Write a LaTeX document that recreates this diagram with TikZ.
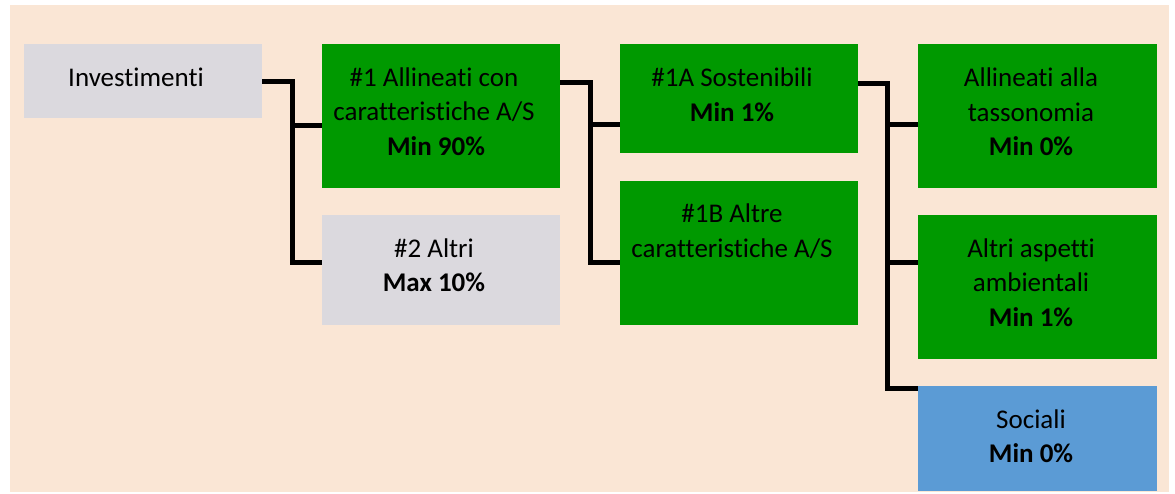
\documentclass[tikz,border=0pt]{standalone}
\usepackage{fontspec}
\setmainfont[Ligatures={NoCommon}]{Carlito}
\definecolor{bgc}{HTML}{FAE6D5}
\definecolor{boxgreen}{HTML}{009900}
\definecolor{boxgrey}{HTML}{DBD9DE}
\definecolor{boxblue}{HTML}{5B9BD5}
\tikzset{
  box/.style={rectangle, draw=none, inner sep=0pt, outer sep=0pt, anchor=north west},
  txt/.style={anchor=base, inner sep=0pt, outer sep=0pt, font=\fontsize{27}{34.5}\selectfont},
  conn/.style={line width=5pt, black, line join=miter}
}
\begin{document}
\begin{tikzpicture}[x=1pt,y=-1pt]
\useasboundingbox (0,0) rectangle (1175,493);
\fill[bgc] (10,5) rectangle (1169,492);
% boxes
\node[box, fill=boxgrey,  minimum width=238pt, minimum height=74pt]  (inv) at (24,44) {};
\node[box, fill=boxgreen, minimum width=238pt, minimum height=144pt] (n1)  at (322,44) {};
\node[box, fill=boxgrey,  minimum width=238pt, minimum height=110pt] (n2)  at (322,215) {};
\node[box, fill=boxgreen, minimum width=238pt, minimum height=109pt] (n1a) at (620,44) {};
\node[box, fill=boxgreen, minimum width=238pt, minimum height=144pt] (n1b) at (620,181) {};
\node[box, fill=boxgreen, minimum width=239pt, minimum height=144pt] (tax) at (918,44) {};
\node[box, fill=boxgreen, minimum width=239pt, minimum height=144pt] (amb) at (918,215) {};
\node[box, fill=boxblue,  minimum width=239pt, minimum height=105pt] (soc) at (918,386) {};
% texts
\node[txt] (tinv) at (136,86) {Investimenti};
\node[txt] (tn1a) at (434,86) {\#1 Allineati con};
\node[txt] (tn1b) at (434,120) {caratteristiche A/S};
\node[txt] (tn1c) at (436,155) {\textbf{Min 90\%}};
\node[txt] (tn2a) at (434,257) {\#2 Altri};
\node[txt] (tn2b) at (434,291) {\textbf{Max 10\%}};
\node[txt] (t1aa) at (732,86) {\#1A Sostenibili};
\node[txt] (t1ab) at (732,121) {\textbf{Min 1\%}};
\node[txt] (t1ba) at (732,222) {\#1B Altre};
\node[txt] (t1bb) at (732,257) {caratteristiche A/S};
\node[txt] (ttaxa) at (1031,86) {Allineati alla};
\node[txt] (ttaxb) at (1031,121) {tassonomia};
\node[txt] (ttaxc) at (1031,155) {\textbf{Min 0\%}};
\node[txt] (tamba) at (1031,257) {Altri aspetti};
\node[txt] (tambb) at (1031,291) {ambientali};
\node[txt] (tambc) at (1031,326) {\textbf{Min 1\%}};
\node[txt] (tsoca) at (1031,428) {Sociali};
\node[txt] (tsocb) at (1031,462) {\textbf{Min 0\%}};
% connection points
\coordinate (n1in)  at ([yshift=-81pt]n1.north west);
\coordinate (n2in)  at ([yshift=-47pt]n2.north west);
\coordinate (n1out) at ([yshift=-38pt]n1.north east);
\coordinate (n1ain) at ([yshift=-80pt]n1a.north west);
\coordinate (n1bin) at ([yshift=-81pt]n1b.north west);
\coordinate (n1aout) at ([yshift=-39pt]n1a.north east);
\coordinate (taxin) at ([yshift=-80pt]tax.north west);
\coordinate (ambin) at ([yshift=-47pt]amb.north west);
\coordinate (socin) at ([yshift=-2pt]soc.north west);
% connectors
\draw[conn] (inv.east) -- ++(30pt,0) coordinate (j1) |- (n2in);
\draw[conn] (j1 |- n1in) -- (n1in);
\draw[conn] (n1out) -- ++(30pt,0) coordinate (j2) |- (n1bin);
\draw[conn] (j2 |- n1ain) -- (n1ain);
\draw[conn] (n1aout) -- ++(29pt,0) coordinate (j3) |- (socin);
\draw[conn] (j3 |- taxin) -- (taxin);
\draw[conn] (j3 |- ambin) -- (ambin);
\end{tikzpicture}
\end{document}
